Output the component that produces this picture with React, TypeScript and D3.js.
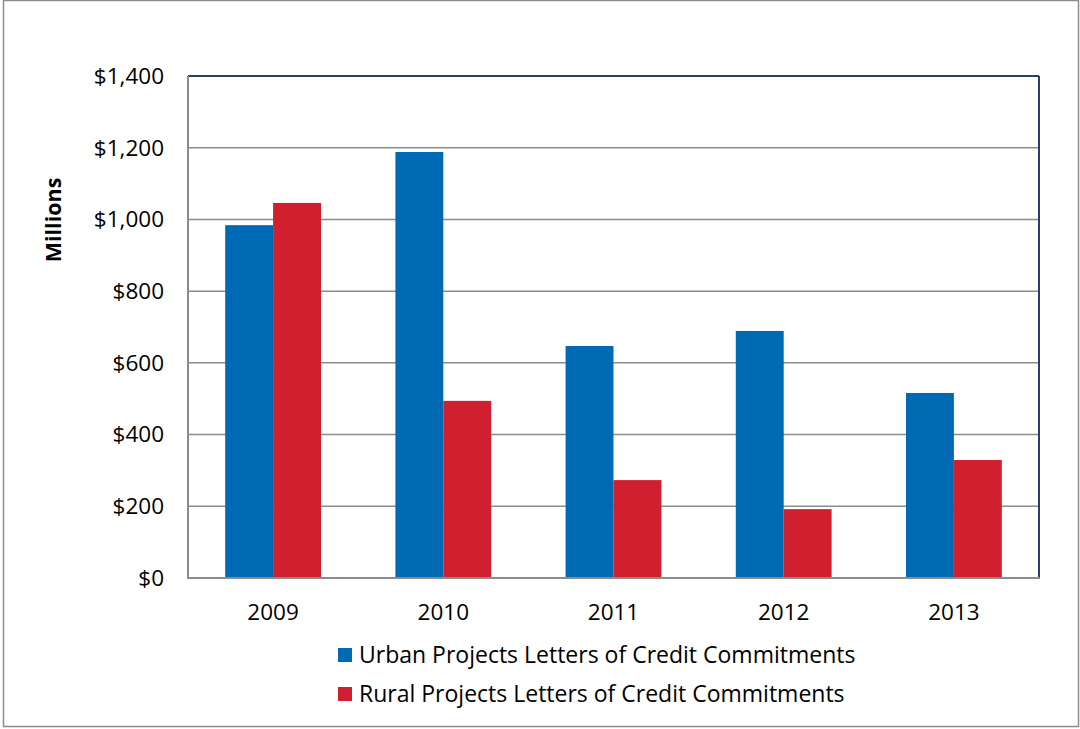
import React from "react";
import * as d3 from "d3";

const categories = ["2009", "2010", "2011", "2012", "2013"];
const seriesNames = [
  "Urban Projects Letters of Credit Commitments",
  "Rural Projects Letters of Credit Commitments",
];
const urban = [984, 1188, 647, 689, 516];
const rural = [1046, 494, 273, 192, 329];
const yTicks = [0, 200, 400, 600, 800, 1000, 1200, 1400];
const colors = ["#0069B4", "#D01F2E"];

const W = 1080;
const H = 729;
const left = 188;
const right = 1039;
const top = 76;
const bottom = 578;
const font = "Open Sans, Lato, sans-serif";

export default function App() {
  const x = d3.scaleBand<string>().domain(categories).range([left, right]).paddingInner(0.437).paddingOuter(0.2185);
  const y = d3.scaleLinear().domain([0, 1400]).range([bottom, top]);
  const inner = d3.scaleBand<number>().domain([0, 1]).range([0, x.bandwidth()]);
  const series = [urban, rural];
  const fmt = (v: number) => "$" + d3.format(",")(v);

  return (
    <svg width={W} height={H} style={{ position: "absolute", left: 0, top: 0 }} fontFamily={font}>
      <rect x={0} y={0} width={W} height={H} fill="#fff" />
      <rect x={3.5} y={0.5} width={1075} height={726} fill="none" stroke="#8c8c8c" strokeWidth={1.5} />
      {yTicks.slice(1, -1).map((t) => (
        <line key={t} x1={left} x2={right} y1={y(t)} y2={y(t)} stroke="#8c8c8c" strokeWidth={1.5} />
      ))}
      {series.map((vals, si) =>
        vals.map((v, i) => (
          <rect
            key={si + "-" + i}
            x={(x(categories[i]) as number) + (inner(si) as number)}
            y={y(v)}
            width={inner.bandwidth()}
            height={y(0) - y(v)}
            fill={colors[si]}
          />
        ))
      )}
      <line x1={left} x2={right} y1={top} y2={top} stroke="#243F6E" strokeWidth={2} />
      <line x1={right} x2={right} y1={top} y2={bottom} stroke="#243F6E" strokeWidth={2} />
      <line x1={left} x2={left} y1={top} y2={bottom} stroke="#8c8c8c" strokeWidth={2} />
      <line x1={left - 1} x2={right + 1} y1={bottom} y2={bottom} stroke="#8c8c8c" strokeWidth={2} />
      {yTicks.map((t) => (
        <text key={t} x={164} y={y(t)} dy="0.35em" textAnchor="end" fontSize={22.5} fill="#000">
          {fmt(t)}
        </text>
      ))}
      {categories.map((c) => (
        <text key={c} x={(x(c) as number) + x.bandwidth() / 2} y={620} textAnchor="middle" fontSize={22.5} fill="#000">
          {c}
        </text>
      ))}
      <text
        transform={`translate(61,220) rotate(-90)`}
        textAnchor="middle"
        fontSize={21.5}
        fontWeight="bold"
        fill="#000"
      >
        Millions
      </text>
      {seriesNames.map((n, i) => (
        <g key={n} transform={`translate(338,${648 + i * 39})`}>
          <rect x={0} y={0} width={14} height={14} fill={colors[i]} />
          <text x={21} y={7} dy="0.36em" fontSize={23} fill="#000">
            {n}
          </text>
        </g>
      ))}
    </svg>
  );
}
